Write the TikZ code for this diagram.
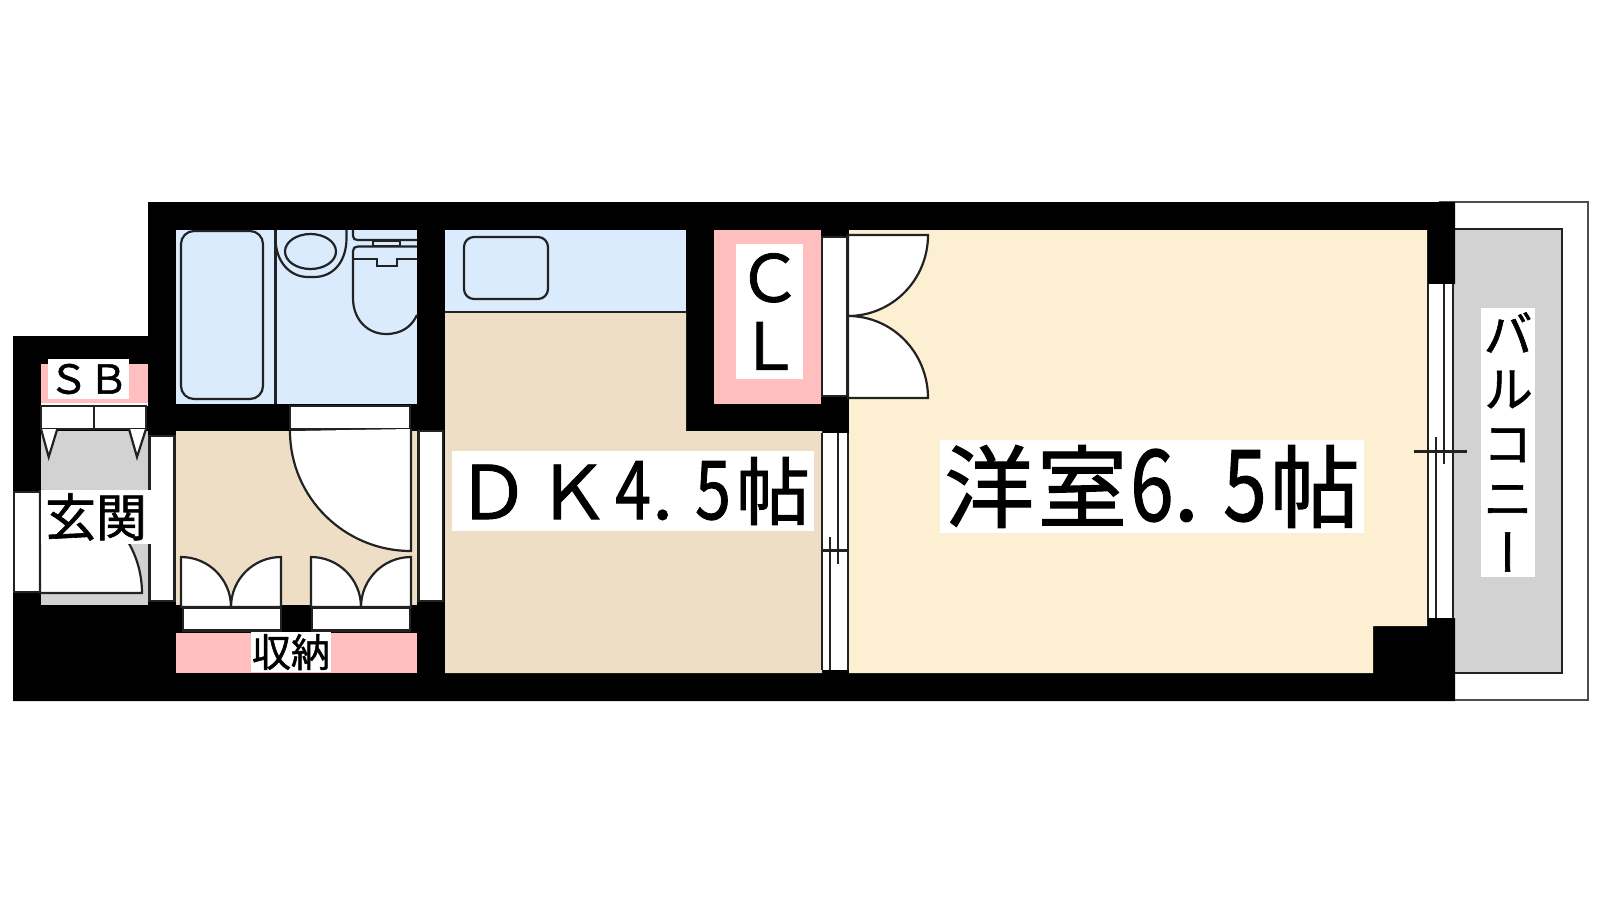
\documentclass[tikz,border=0pt]{standalone}
\usepackage{fontspec}
\usepackage{graphicx}
\setmainfont{Noto Sans CJK JP}[FakeBold=1.2]
\usetikzlibrary{positioning}
\definecolor{bathblue}{HTML}{DAEBFE}
\definecolor{dkbeige}{HTML}{EEDEC6}
\definecolor{roomcream}{HTML}{FDF0D2}
\definecolor{closetpink}{HTML}{FFBFBF}
\definecolor{floorgray}{HTML}{D2D2D2}
\definecolor{inkline}{HTML}{222222}
\newcommand{\fullcell}[1]{\makebox[\cellw]{#1}}
\newcommand{\halfcell}[1]{\makebox[.5\dimexpr\cellw\relax]{\scalebox{.87}[1.1]{#1}}}
\newcommand{\dotcell}{\makebox[.5\dimexpr\cellw\relax]{\hspace{-.26\dimexpr\cellw\relax}.}}
\tikzset{
    thinline/.style={draw=inkline, line width=2.2pt},
    leaf/.style={thinline, fill=white},
    roomlabel/.style={fill=white, inner sep=0pt, text=black, align=center},
}

\begin{document}
\begin{tikzpicture}[x=1pt,y=-1pt]
\useasboundingbox (0,0) rectangle (1600,900);

\draw[draw=inkline!80, line width=2.2pt, fill=white] (1440,202) rectangle (1588,700);
\draw[thinline, fill=floorgray] (1440,229) rectangle (1562,673);
\fill[black] (148,202) -- (1455,202) -- (1455,284) -- (1428,284) -- (1428,618) -- (1455,618) -- (1455,701) -- (13,701) -- (13,336) -- (148,336) -- cycle;

\fill[bathblue] (176,230) rectangle (417,404);
\fill[bathblue] (445,230) rectangle (686,312);
\fill[dkbeige] (445,312) -- (686,312) -- (686,431) -- (822,431) -- (822,673) -- (445,673) -- cycle;
\fill[dkbeige] (176,431) rectangle (417,605);
\fill[roomcream] (849,230) -- (1427,230) -- (1427,626) -- (1373,626) -- (1373,673) -- (849,673) -- cycle;
\fill[closetpink] (714,230) rectangle (821,404);
\fill[closetpink] (176,633) rectangle (417,673);
\fill[closetpink] (41,364) rectangle (148,403);
\fill[white] (41,403) rectangle (148,406);
\fill[floorgray] (41,431) rectangle (148,605);

% bath, basin, toilet
\draw[thinline, rounded corners=13pt] (181,231) rectangle (263,399);
\draw[thinline] (275.5,230) -- (275.5,404);
\draw[thinline] (275.5,238) .. controls (275.5,262) and (290,277) .. (308,277) -- (314,277) .. controls (333,277) and (346.5,262) .. (346.5,238) -- (346.5,230);
\draw[thinline] (310.5,251.5) ellipse [x radius=25.5pt, y radius=17.5pt];
\draw[thinline] (353,230) -- (353,236) .. controls (353,239) and (355,240) .. (358,240) -- (417,240);
\draw[thinline] (373,241) rectangle (400,246);
\draw[thinline] (417,246.5) -- (358,246.5) .. controls (355,246.5) and (353,248) .. (353,251) -- (353,298) .. controls (353,320) and (368,334) .. (386,334) .. controls (402,334) and (412,326) .. (417,315);
\draw[thinline] (353,259) -- (377,259) -- (377,266) -- (397,266) -- (397,259) -- (417,259);
\draw[thinline, rounded corners=10pt] (464,237) rectangle (548,299);
\draw[thinline] (445,312) -- (686,312);

% door strips in the walls
\foreach \xa/\ya/\xb/\yb in {290/406/410/429, 149.5/436/174.5/601, 418.5/431/443/601, 14/492/40/592, 183/607.5/281/630.5, 312/607.5/410/630.5, 822/237/847/396, 41/406/146/429} {
    \draw[leaf] (\xa,\ya) rectangle (\xb,\yb);
}
\draw[thinline] (93.7,406) -- (93.7,429);
\draw[leaf] (41,429) -- (48.7,457) -- (57.3,429);
\draw[leaf] (129,429) -- (137,457) -- (146,429);

% swinging doors
\draw[leaf] (290,431) .. controls (290,497) and (344,551) .. (411,551) -- (411,429);
\draw[leaf] (40,491) .. controls (96,491) and (142,537) .. (142,593) -- (40,593) -- cycle;
\foreach \x in {181,311} {
    \draw[leaf] (\x,557) .. controls (\x+27.6,557) and (\x+50,579.4) .. (\x+50,607) -- (\x,607) -- cycle;
    \draw[leaf] (\x+100,557) .. controls (\x+72.4,557) and (\x+50,579.4) .. (\x+50,607) -- (\x+100,607) -- cycle;
}
\draw[leaf] (848,235) -- (928,235) .. controls (928,279.6) and (892.4,316) .. (848,316) -- cycle;
\draw[leaf] (848,398) -- (928,398) .. controls (928,353) and (892.7,316) .. (848,316) -- cycle;

% sliding windows
\fill[white] (822,433) rectangle (848,670);
\fill[white] (1428,284) rectangle (1453,618);
\foreach \xa/\xb/\xc/\xd/\ya/\yb/\ym/\yn in {822/830/838/848/433/670/537/564, 1428/1436/1444/1453/284/618/437/464} {
    \draw[thinline] (\xa,\ya) -- (\xa,\yb);
    \draw[thinline] (\xd,\ya) -- (\xd,\yb);
    \draw[thinline] (\xb,\ym) -- (\xb,\yb);
    \draw[thinline] (\xc,\ya) -- (\xc,\yn);
}
\draw[thinline] (822,550.5) -- (848,550.5);
\draw[thinline] (1414,451.5) -- (1467,451.5);

\node[roomlabel, minimum width=424pt, minimum height=93pt, font=\fontsize{90pt}{90pt}\selectfont] (youshitsu) at (1152,486.5) {\def\cellw{93pt}\fullcell{洋}\fullcell{室}\halfcell{6}\dotcell\halfcell{5}\fullcell{帖}};
\node[roomlabel, minimum width=362pt, minimum height=80pt, font=\fontsize{74pt}{74pt}\selectfont] (dk) at (633,491) {\def\cellw{80pt}\fullcell{Ｄ}\fullcell{Ｋ}\halfcell{4}\dotcell\halfcell{5}\fullcell{帖}};
\node[roomlabel, minimum width=67pt, minimum height=135pt, font=\fontsize{65pt}{68pt}\selectfont] (closet) at (769.5,311.5) {Ｃ\\Ｌ};
\node[roomlabel, minimum width=81pt, minimum height=40pt, font=\fontsize{40pt}{40pt}\selectfont] (shoebox) at (88.5,379) {ＳＢ};
\node[roomlabel, minimum width=110pt, minimum height=54pt, font=\fontsize{51pt}{51pt}\selectfont] (genkan) at (96,517) {玄関};
\node[roomlabel, minimum width=80pt, minimum height=40pt, font=\fontsize{39pt}{39pt}\selectfont] (shuunou) at (291,652) {収納};
\node[roomlabel, minimum width=54pt, minimum height=269pt, font=\fontsize{50pt}{54.7pt}\selectfont\addfontfeature{RawFeature=+vert}] (balcony) at (1508,442) {バ\\ル\\コ\\ニ\\ー};
\end{tikzpicture}
\end{document}
